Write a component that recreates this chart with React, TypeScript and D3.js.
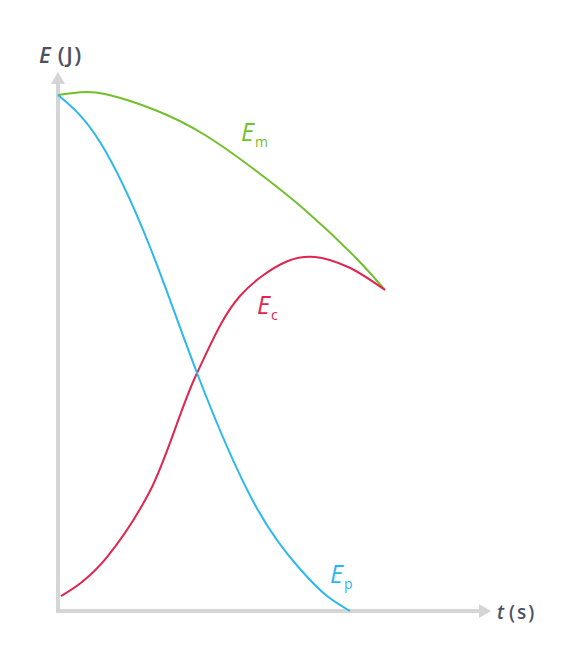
import React from 'react';
import * as d3 from 'd3';

// time (arbitrary units) and energy values
const tEm = [0, 0.524, 1.119, 2.31, 3.5, 4.69, 5.881, 7.071, 7.786];
const vEm = [9.923, 9.975, 9.942, 9.635, 9.154, 8.481, 7.712, 6.808, 6.173];
const tEp = [0, 1.0, 2.19, 3.31, 4.667, 5.762, 6.405, 6.952];
const vEp = [9.923, 9.019, 7.0, 4.577, 2.077, 0.808, 0.288, 0];
const tEc = [0.071, 0.571, 1.167, 2.19, 3.31, 4.333, 5.476, 6.119, 6.905, 7.786];
const vEc = [0.288, 0.558, 1.038, 2.308, 4.577, 6.058, 6.731, 6.808, 6.615, 6.173];

const seriesNames = ['m', 'c', 'p'];
const yLabel = 'E';
const yUnit = '(J)';
const xLabel = 't';
const xUnit = '(s)';

const W = 570;
const H = 664;
const GREEN = '#72bf2c';
const RED = '#e0254f';
const BLUE = '#2bb7ef';
const AXIS = '#d5d5d5';
const TEXT = '#4b5163';
const FONT = '"Open Sans", sans-serif';

export default function App() {
  const x = d3.scaleLinear().domain([0, 10]).range([58, 478]);
  const y = d3.scaleLinear().domain([0, 10]).range([611, 91]);
  const mk = (curve: d3.CurveFactory) =>
    d3
      .line<[number, number]>()
      .x((d) => x(d[0]))
      .y((d) => y(d[1]))
      .curve(curve);
  const natural = mk(d3.curveNatural);
  const smooth = mk(d3.curveCatmullRom.alpha(0.5));
  const zip = (a: number[], b: number[]) => a.map((v, i) => [v, b[i]] as [number, number]);

  const x0 = x(0);
  const y0 = y(0);

  const label = (px: number, py: number, color: string, sub: string) => (
    <text x={px} y={py} fill={color} fontFamily={FONT} fontSize={25}>
      <tspan fontStyle="italic">E</tspan>
      <tspan fontSize={14} dx={1} dy={6}>
        {sub}
      </tspan>
    </text>
  );

  return (
    <svg
      width={W}
      height={H}
      style={{ position: 'absolute', left: 0, top: 0, background: '#fff' }}
    >
      {/* axes */}
      <line x1={x0} y1={y0 + 2} x2={x0} y2={84} stroke={AXIS} strokeWidth={4} />
      <polygon points={`${x0},72 ${x0 - 7},84 ${x0 + 7},84`} fill={AXIS} />
      <line x1={x0 - 2} y1={y0} x2={479} y2={y0} stroke={AXIS} strokeWidth={4} />
      <polygon points={`491,${y0} 479,${y0 - 7} 479,${y0 + 7}`} fill={AXIS} />

      {/* curves */}
      <path d={natural(zip(tEm, vEm)) || ''} fill="none" stroke={GREEN} strokeWidth={2} />
      <path d={smooth(zip(tEc, vEc)) || ''} fill="none" stroke={RED} strokeWidth={2} />
      <path d={natural(zip(tEp, vEp)) || ''} fill="none" stroke={BLUE} strokeWidth={2} />

      {/* curve labels */}
      {label(241, 141, GREEN, seriesNames[0])}
      {label(257, 314, RED, seriesNames[1])}
      {label(330, 583, BLUE, seriesNames[2])}

      {/* axis labels */}
      <text x={39} y={63} fill={TEXT} fontFamily={FONT} fontSize={22} fontWeight={600}>
        <tspan fontStyle="italic">{yLabel}</tspan>
        <tspan dx={7} letterSpacing={1.5}>{yUnit}</tspan>
      </text>
      <text x={497} y={619} fill={TEXT} fontFamily={FONT} fontSize={19} fontWeight={600}>
        <tspan fontStyle="italic">{xLabel}</tspan>
        <tspan dx={5} letterSpacing={2}>{xUnit}</tspan>
      </text>
    </svg>
  );
}
